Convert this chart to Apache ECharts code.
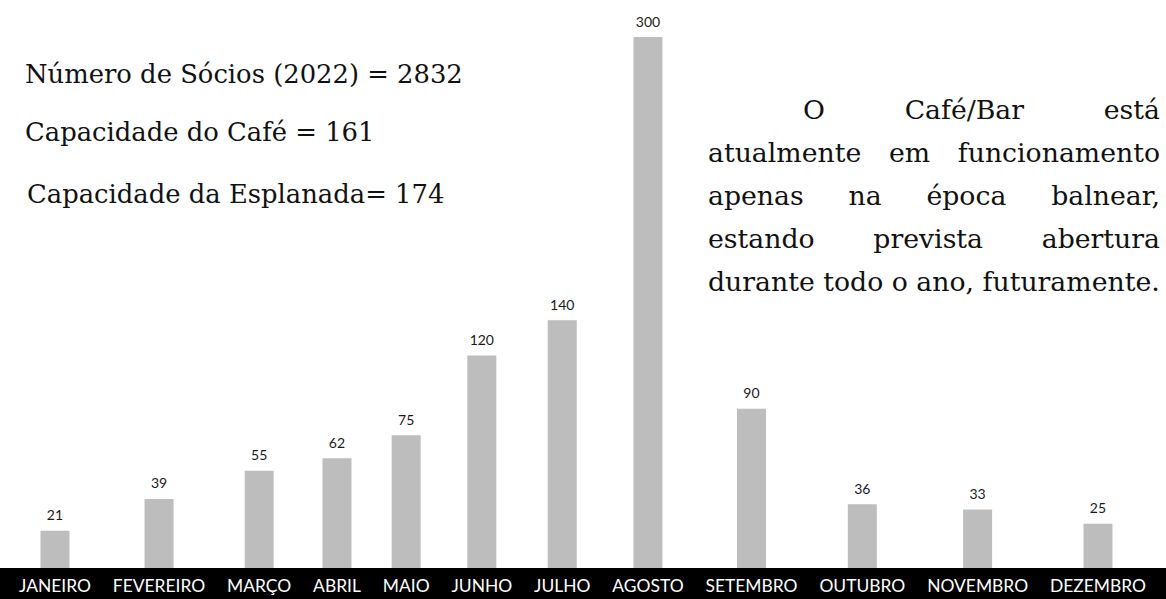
<!DOCTYPE html>
<html><head><meta charset="utf-8">
<script src="https://cdn.jsdelivr.net/npm/echarts@6/dist/echarts.min.js"></script>
<style>html,body{margin:0;padding:0;background:#fff}#c{width:1166px;height:599px}</style>
</head><body><div id="c"></div>
<script>
// ---- data ----
const months = ['JANEIRO','FEVEREIRO','MARÇO','ABRIL','MAIO','JUNHO','JULHO','AGOSTO','SETEMBRO','OUTUBRO','NOVEMBRO','DEZEMBRO'];
const visitors = [21, 39, 55, 62, 75, 120, 140, 300, 90, 36, 33, 25];
const infoLines = ['Número de Sócios (2022) = 2832', 'Capacidade do Café = 161', 'Capacidade da Esplanada= 174'];
const noteLines = [
  ['O', 'Café/Bar', 'está'],
  ['atualmente', 'em', 'funcionamento'],
  ['apenas', 'na', 'época', 'balnear,'],
  ['estando', 'prevista', 'abertura'],
  ['durante', 'todo', 'o', 'ano,', 'futuramente.']
];

// ---- layout helpers ----
const W = 1166, H = 599;
const mctx = document.createElement('canvas').getContext('2d');
function tw(text, size, family) { mctx.font = size + 'px ' + family; return mctx.measureText(text).width; }
function fitSize(text, family, target) { return 100 * target / tw(text, 100, family); }

// month labels sit in a row with equal gaps; bars are centred on their labels
const LABEL_FAMILY = '"Liberation Sans Narrow", "Arial Narrow", Lato, sans-serif';
const labelRow = { start: 19, end: 1146, labelsWidth: 887 };
const sum100 = months.reduce((s, m) => s + tw(m, 100, LABEL_FAMILY), 0);
const labelFs = Math.min(19.5, 100 * labelRow.labelsWidth / sum100);
const lw = months.map(m => tw(m, labelFs, LABEL_FAMILY));
const gap = (labelRow.end - labelRow.start - lw.reduce((a, b) => a + b, 0)) / (months.length - 1);
const centers = [];
let cx = labelRow.start;
lw.forEach(w => { centers.push(cx + w / 2); cx += w + gap; });

// text blocks
const SERIF = '"DejaVu Serif", serif';
const leftFs = fitSize(infoLines[0], SERIF, 438);
const rightFs = fitSize(noteLines[4].join(' '), SERIF, 452);
const graphics = [];
const leftBase = [82, 140, 202], leftX = [25, 25, 27];
infoLines.forEach((t, i) => graphics.push({
  type: 'text', x: leftX[i], y: leftBase[i] - 0.32 * leftFs,
  style: { text: t, fontFamily: SERIF, fontSize: leftFs, fill: '#111', align: 'left', verticalAlign: 'middle' }
}));
const paraL = 708, paraR = 1160, indent = 95;
noteLines.forEach((words, i) => {
  const y = 118 + 43 * i - 0.32 * rightFs;
  const x0 = paraL + (i === 0 ? indent : 0);
  const widths = words.map(w => tw(w, rightFs, SERIF));
  const last = i === noteLines.length - 1;
  const sp = last ? tw(' ', rightFs, SERIF) : (paraR - x0 - widths.reduce((a, b) => a + b, 0)) / (words.length - 1);
  let x = x0;
  words.forEach((w, j) => {
    graphics.push({ type: 'text', x: x, y: y,
      style: { text: w, fontFamily: SERIF, fontSize: rightFs, fill: '#111', align: 'left', verticalAlign: 'middle' } });
    x += widths[j] + sp;
  });
});

const chart = echarts.init(document.getElementById('c'), null, { renderer: 'svg', width: W, height: H });
chart.setOption({
  animation: false,
  backgroundColor: '#fff',
  grid: { left: 0, right: 0, top: 37, bottom: 31, containLabel: false, outerBoundsMode: 'none' },
  xAxis: {
    type: 'value', min: 0, max: W, offset: 15.5,
    axisLine: { show: true, onZero: false, lineStyle: { color: '#000', width: 31 } },
    axisTick: { show: false }, splitLine: { show: false },
    axisLabel: {
      customValues: centers,
      formatter: function (v) {
        let best = 0;
        centers.forEach((c, i) => { if (Math.abs(c - v) < Math.abs(centers[best] - v)) best = i; });
        return months[best];
      },
      color: '#fff', fontFamily: LABEL_FAMILY, fontSize: labelFs, margin: 2, verticalAlign: 'middle',
      hideOverlap: false
    }
  },
  yAxis: { type: 'value', min: 0, max: 300, show: false },
  series: [{
    type: 'bar',
    data: visitors.map((v, i) => [centers[i], v]),
    barWidth: 29,
    itemStyle: { color: '#bdbdbd' },
    label: { show: true, position: 'top', distance: 9, fontFamily: 'Lato', fontSize: 14, color: '#1a1a1a',
      formatter: p => p.value[1] }
  }],
  graphic: graphics
});
</script>
</body></html>
